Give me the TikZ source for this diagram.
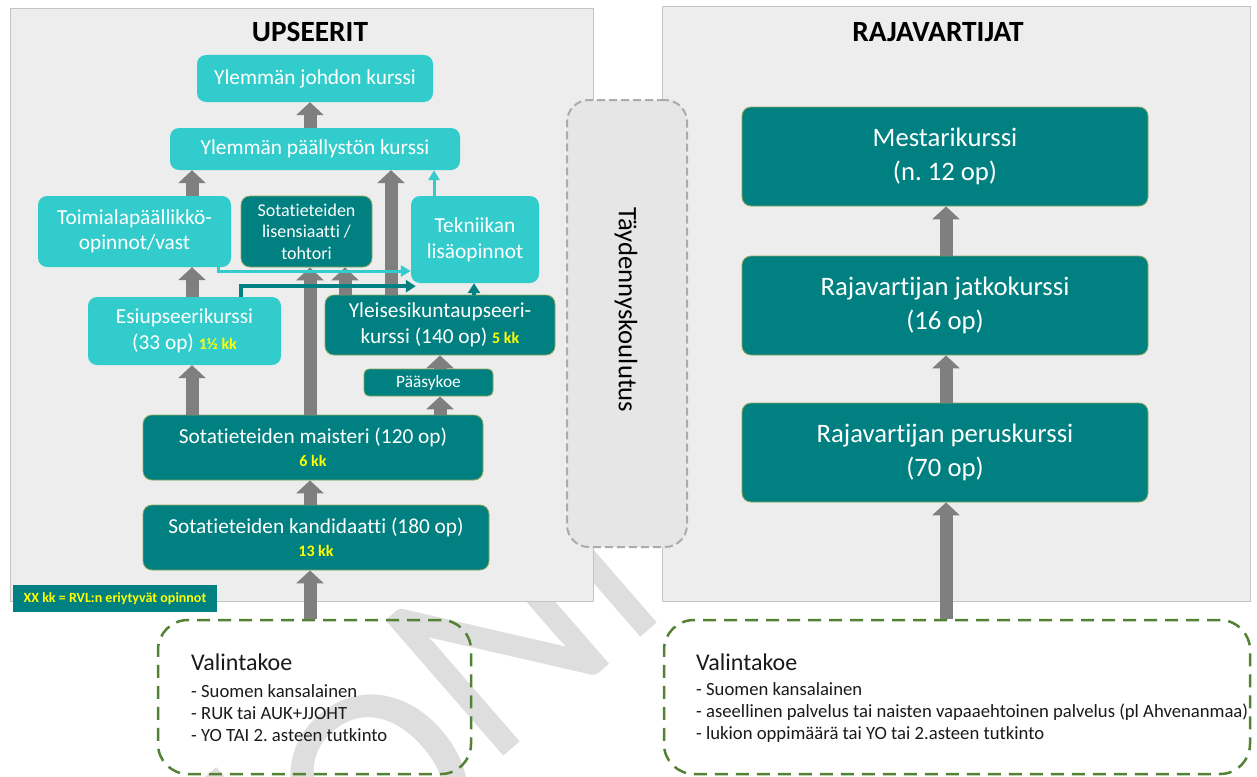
\documentclass[tikz,border=0pt]{standalone}
\usepackage{fontspec}
\setmainfont{Carlito}[Ligatures=NoCommon]
\usetikzlibrary{arrows.meta}
\frenchspacing

\definecolor{boxcyan}{HTML}{33CCCC}
\definecolor{boxteal}{HTML}{008080}
\definecolor{tealedge}{HTML}{8DA85A}
\definecolor{arrowgray}{HTML}{7F7F7F}
\definecolor{panelgray}{HTML}{EDEDED}
\definecolor{paneledge}{HTML}{C4C4C4}
\definecolor{kkyellow}{HTML}{FFFF00}
\definecolor{dashgreen}{HTML}{548235}
\definecolor{dashgray}{HTML}{AEAAAA}
\definecolor{tayfill}{HTML}{E6E6E6}
\definecolor{wmgray}{HTML}{DEDEDE}
\definecolor{inktext}{HTML}{1A1A1A}

\newcommand{\kk}[1]{{\fontsize{16}{16}\selectfont\bfseries\color{kkyellow}#1}}

\begin{document}
\begin{tikzpicture}[x=1pt, y=-1pt,
        box/.style={rounded corners=9pt, inner sep=0pt, align=center, text=white,
            font=\fontsize{21.33}{25}\selectfont},
        cyanbox/.style={box, fill=boxcyan},
        tealbox/.style={box, fill=boxteal, draw=tealedge, line width=0.8pt},
        rajbox/.style={tealbox, minimum width=406pt, minimum height=99pt,
            font=\fontsize{26.67}{34}\selectfont},
        panel/.style={fill=panelgray, draw=paneledge, line width=1pt},
        title/.style={font=\fontsize{29.33}{30}\selectfont\bfseries, text=black},
        valbox/.style={draw=dashgreen, line width=2.5pt, dash pattern=on 13pt off 8pt,
            rounded corners=30pt, minimum height=154pt, inner sep=0pt},
        valhead/.style={anchor=west, inner sep=0pt, text=inktext, font=\fontsize{24}{24}\selectfont},
        valitems/.style={anchor=west, inner sep=0pt, align=left, text=inktext,
            font=\fontsize{18.67}{22}\selectfont},
        grayarrow/.style={draw=arrowgray, line width=13pt, -{Triangle[width=27pt,length=13pt]}},
        cyanline/.style={draw=boxcyan, line width=3pt, -{Triangle[width=11pt,length=10pt]}},
        tealline/.style={draw=boxteal, line width=3.5pt, -{Triangle[width=12pt,length=10pt]}}]
    \useasboundingbox (0,0) rectangle (1257,776);
    \clip (0,0) rectangle (1257,776);
    \fill[white] (0,0) rectangle (1257,776);

    % watermark behind everything
    \node[rotate=41, anchor=base west, inner sep=0pt, text=wmgray,
        font=\fontsize{280}{280}\selectfont] (wmark) at (129,1082) {LU\raisebox{-30pt}{O}NNOS};

    \draw[panel] (10,9) rectangle (593,601);
    \draw[panel] (662,7) rectangle (1250,601);
    \node[title] (upstitle) at (310,32) {UPSEERIT};
    \node[title] (rajtitle) at (938,32) {RAJAVARTIJAT};

    % upseerit
    \node[cyanbox, minimum width=236pt, minimum height=47pt] (johd) at (315,78.5) {Ylemmän johdon kurssi};
    \node[cyanbox, minimum width=290pt, minimum height=42pt] (payl) at (315,149) {Ylemmän päällystön kurssi};
    \node[cyanbox, minimum width=193pt, minimum height=71pt] (toim) at (134.5,231.5) {Toimialapäällikkö-\\opinnot/vast};
    \node[tealbox, minimum width=131pt, minimum height=71pt, font=\fontsize{18}{21.5}\selectfont]
        (lis) at (306.5,231.5) {Sotatieteiden\\lisensiaatti /\\tohtori};
    \node[cyanbox, minimum width=128pt, minimum height=87pt, font=\fontsize{21.33}{26}\selectfont]
        (tekn) at (475,239.5) {Tekniikan\\lisäopinnot};
    \node[cyanbox, minimum width=193pt, minimum height=68pt, font=\fontsize{21.33}{26}\selectfont]
        (esi) at (184.5,331) {Esiupseerikurssi\\(33 op) \kk{1½ kk}};
    \node[tealbox, minimum width=230pt, minimum height=60pt, font=\fontsize{21.33}{26}\selectfont]
        (yle) at (440,325) {Yleisesikuntaupseeri-\\kurssi (140 op) \kk{5 kk}};
    \node[tealbox, rounded corners=5pt, minimum width=129pt, minimum height=27pt,
        font=\fontsize{17.33}{18}\selectfont] (paas) at (428.5,382.5) {Pääsykoe};
    \node[tealbox, minimum width=340pt, minimum height=65pt, font=\fontsize{21.33}{23}\selectfont]
        (maist) at (313,447.5) {Sotatieteiden maisteri (120 op)\\\kk{6 kk}};
    \node[tealbox, minimum width=346pt, minimum height=65pt, font=\fontsize{21.33}{23}\selectfont]
        (kand) at (316,537.5) {Sotatieteiden kandidaatti (180 op)\\\kk{13 kk}};
    \node[fill=boxteal, minimum width=204pt, minimum height=27pt, inner sep=0pt, text=kkyellow,
        font=\fontsize{14}{14}\selectfont\bfseries] (legend) at (115,598.5) {XX kk = RVL:n eriytyvät opinnot};

    % taydennyskoulutus
    \node[minimum width=120pt, minimum height=447pt, inner sep=0pt, fill=tayfill,
        draw=dashgray, line width=2pt, dash pattern=on 8pt off 4pt, rounded corners=22pt]
        (tayd) at (627,323.5) {};
    \node[rotate=-90, inner sep=0pt, font=\fontsize{26.67}{27}\selectfont] (taydtext) at (626,310) {Täydennyskoulutus};

    % rajavartijat
    \node[rajbox] (mest) at (945,156.5) {Mestarikurssi\\(n. 12 op)};
    \node[rajbox] (jatko) at (945,305.5) {Rajavartijan jatkokurssi\\(16 op)};
    \node[rajbox] (perus) at (945,452.5) {Rajavartijan peruskurssi\\(70 op)};

    % valintakokeet
    \node[valbox, minimum width=313pt] (valL) at (314.5,697) {};
    \node[valhead] (valLhead) at (191,662) {Valintakoe};
    \node[valitems] (valLitems) at (191,713) {- Suomen kansalainen\\- RUK tai AUK+JJOHT\\- YO TAI 2. asteen tutkinto};
    \node[valbox, minimum width=586pt] (valR) at (957,697) {};
    \node[valhead] (valRhead) at (696,662) {Valintakoe};
    \node[valitems] (valRitems) at (696,713) {- Suomen kansalainen\\- aseellinen palvelus tai naisten vapaaehtoinen palvelus (pl Ahvenanmaa)\\- lukion oppimäärä tai YO tai 2.asteen tutkinto};

    % nuolet
    \draw[grayarrow] (310,0 |- valL.north) -- (310,0 |- kand.south);
    \draw[grayarrow] (310,0 |- kand.north) -- (310,0 |- maist.south);
    \draw[grayarrow] (192,0 |- maist.north) -- (192,0 |- esi.south);
    \draw[grayarrow] (192,0 |- esi.north) -- (192,0 |- toim.south);
    \draw[grayarrow] (192,0 |- toim.north) -- (192,0 |- payl.south);
    \draw[grayarrow] (310,0 |- maist.north) -- (310,0 |- lis.south);
    \draw[grayarrow] (345,0 |- yle.north) -- (345,0 |- lis.south);
    \draw[grayarrow] (391,0 |- yle.north) -- (391,0 |- payl.south);
    \draw[grayarrow] (440,0 |- maist.north) -- (440,0 |- paas.south);
    \draw[grayarrow] (440,0 |- paas.north) -- (440,0 |- yle.south);
    \draw[grayarrow] (310,0 |- payl.north) -- (310,0 |- johd.south);
    \draw[cyanline] (434,0 |- tekn.north) -- (434,0 |- payl.south);
    \draw[tealline] (474,0 |- yle.north) -- (474,0 |- tekn.south);
    \draw[cyanline] ([xshift=-13pt]toim.south east) |- ([yshift=-31.5pt]tekn.west);
    \draw[tealline] (241,0 |- esi.north) |- ([xshift=5pt,yshift=-3pt]tekn.south west);

    \draw[grayarrow] (946,0 |- valR.north) -- (946,0 |- perus.south);
    \draw[grayarrow] (946,0 |- perus.north) -- (946,0 |- jatko.south);
    \draw[grayarrow] (946,0 |- jatko.north) -- (946,0 |- mest.south);
\end{tikzpicture}
\end{document}
